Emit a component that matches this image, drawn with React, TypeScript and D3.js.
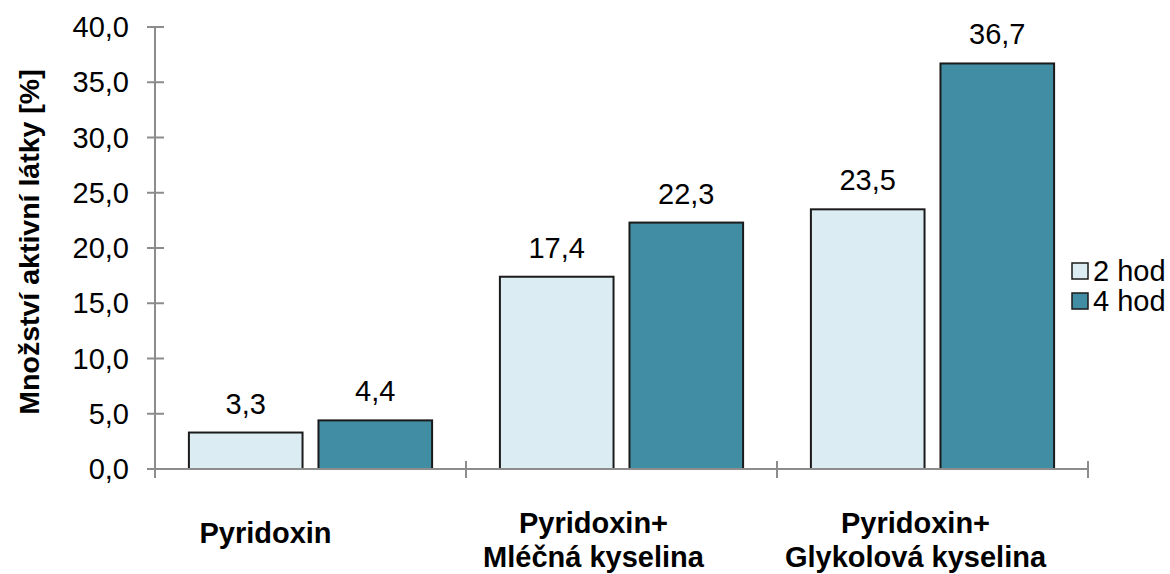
import React from "react";
import * as d3 from "d3";

const categories: string[][] = [
  ["Pyridoxin"],
  ["Pyridoxin+", "Mléčná kyselina"],
  ["Pyridoxin+", "Glykolová kyselina"],
];
const seriesNames = ["2 hod", "4 hod"];
const values2h = [3.3, 17.4, 23.5];
const values4h = [4.4, 22.3, 36.7];
const yTicks = [0, 5, 10, 15, 20, 25, 30, 35, 40];
const yTitle = "Množství aktivní látky [%]";

const W = 1170;
const H = 574;
const colors = ["#DBEDF3", "#418DA3"];
const FONT = "'Liberation Sans', Arial, Helvetica, sans-serif";
const labelShift = [-45, -28, -17];

export default function App() {
  const x = d3
    .scaleBand<number>()
    .domain(categories.map((_, i) => i))
    .range([155, 1088])
    .paddingInner(0)
    .paddingOuter(0);
  const step = x.step();
  const inner = d3
    .scaleBand<string>()
    .domain(seriesNames)
    .range([step * 0.109, step * (1 - 0.109)])
    .paddingInner(0.123)
    .paddingOuter(0);
  const y = d3.scaleLinear().domain([0, 40]).range([469, 27]);
  const fmt = (v: number) => v.toFixed(1).replace(".", ",");
  const series = [values2h, values4h];
  const x0 = x.range()[0];
  const x1 = x.range()[1];
  const boundaries = [...categories.map((_, i) => x(i) as number), x1];

  return (
    <svg width={W} height={H} style={{ position: "absolute", left: 0, top: 0, background: "#fff" }} fontFamily={FONT}>
      <rect x={0} y={0} width={W} height={H} fill="#fff" />
      {/* y axis */}
      <line x1={x0} x2={x0} y1={y(0)} y2={y(40)} stroke="#8c8c8c" strokeWidth={2} />
      {yTicks.map((t) => (
        <g key={t}>
          <line x1={x0 - 8} x2={x0 + 9} y1={y(t)} y2={y(t)} stroke="#8c8c8c" strokeWidth={2} />
          <text x={x0 - 26} y={y(t)} dy="0.35em" textAnchor="end" fontSize={29} fill="#000">
            {fmt(t)}
          </text>
        </g>
      ))}
      {/* bars */}
      {series.map((vals, si) =>
        vals.map((v, ci) => {
          const bx = (x(ci) as number) + (inner(seriesNames[si]) as number);
          const bw = inner.bandwidth();
          return (
            <g key={`${si}-${ci}`}>
              <rect
                x={bx}
                y={y(v)}
                width={bw}
                height={y(0) - y(v)}
                fill={colors[si]}
                stroke="#1a1a1a"
                strokeWidth={2}
              />
              <text x={bx + bw / 2} y={y(v) - 19} textAnchor="middle" fontSize={29} fill="#000">
                {fmt(v)}
              </text>
            </g>
          );
        })
      )}
      {/* x axis */}
      <line x1={x0} x2={x1} y1={y(0)} y2={y(0)} stroke="#8c8c8c" strokeWidth={2} />
      {boundaries.map((b, i) => (
        <line key={i} x1={b} x2={b} y1={y(0) - 8} y2={y(0) + 9} stroke="#8c8c8c" strokeWidth={2} />
      ))}
      {/* category labels */}
      {categories.map((lines, ci) => {
        const cx = (x(ci) as number) + step / 2 + labelShift[ci];
        const startY = lines.length === 1 ? 543 : 533;
        return (
          <text key={ci} textAnchor="middle" fontSize={29} fontWeight="bold" fill="#000">
            {lines.map((l, li) => (
              <tspan key={li} x={cx} y={startY + li * 34}>
                {l}
              </tspan>
            ))}
          </text>
        );
      })}
      {/* y title */}
      <text
        transform={`translate(39, 242) rotate(-90)`}
        textAnchor="middle"
        fontSize={28.5}
        fontWeight="bold"
        fill="#000"
      >
        {yTitle}
      </text>
      {/* legend */}
      {seriesNames.map((s, i) => (
        <g key={s} transform={`translate(1072, ${263 + i * 30})`}>
          <rect x={0} y={0} width={16} height={16} fill={colors[i]} stroke="#1a1a1a" strokeWidth={1.5} />
          <text x={21} y={8} dy="0.36em" fontSize={29} fill="#000">
            {s}
          </text>
        </g>
      ))}
    </svg>
  );
}
